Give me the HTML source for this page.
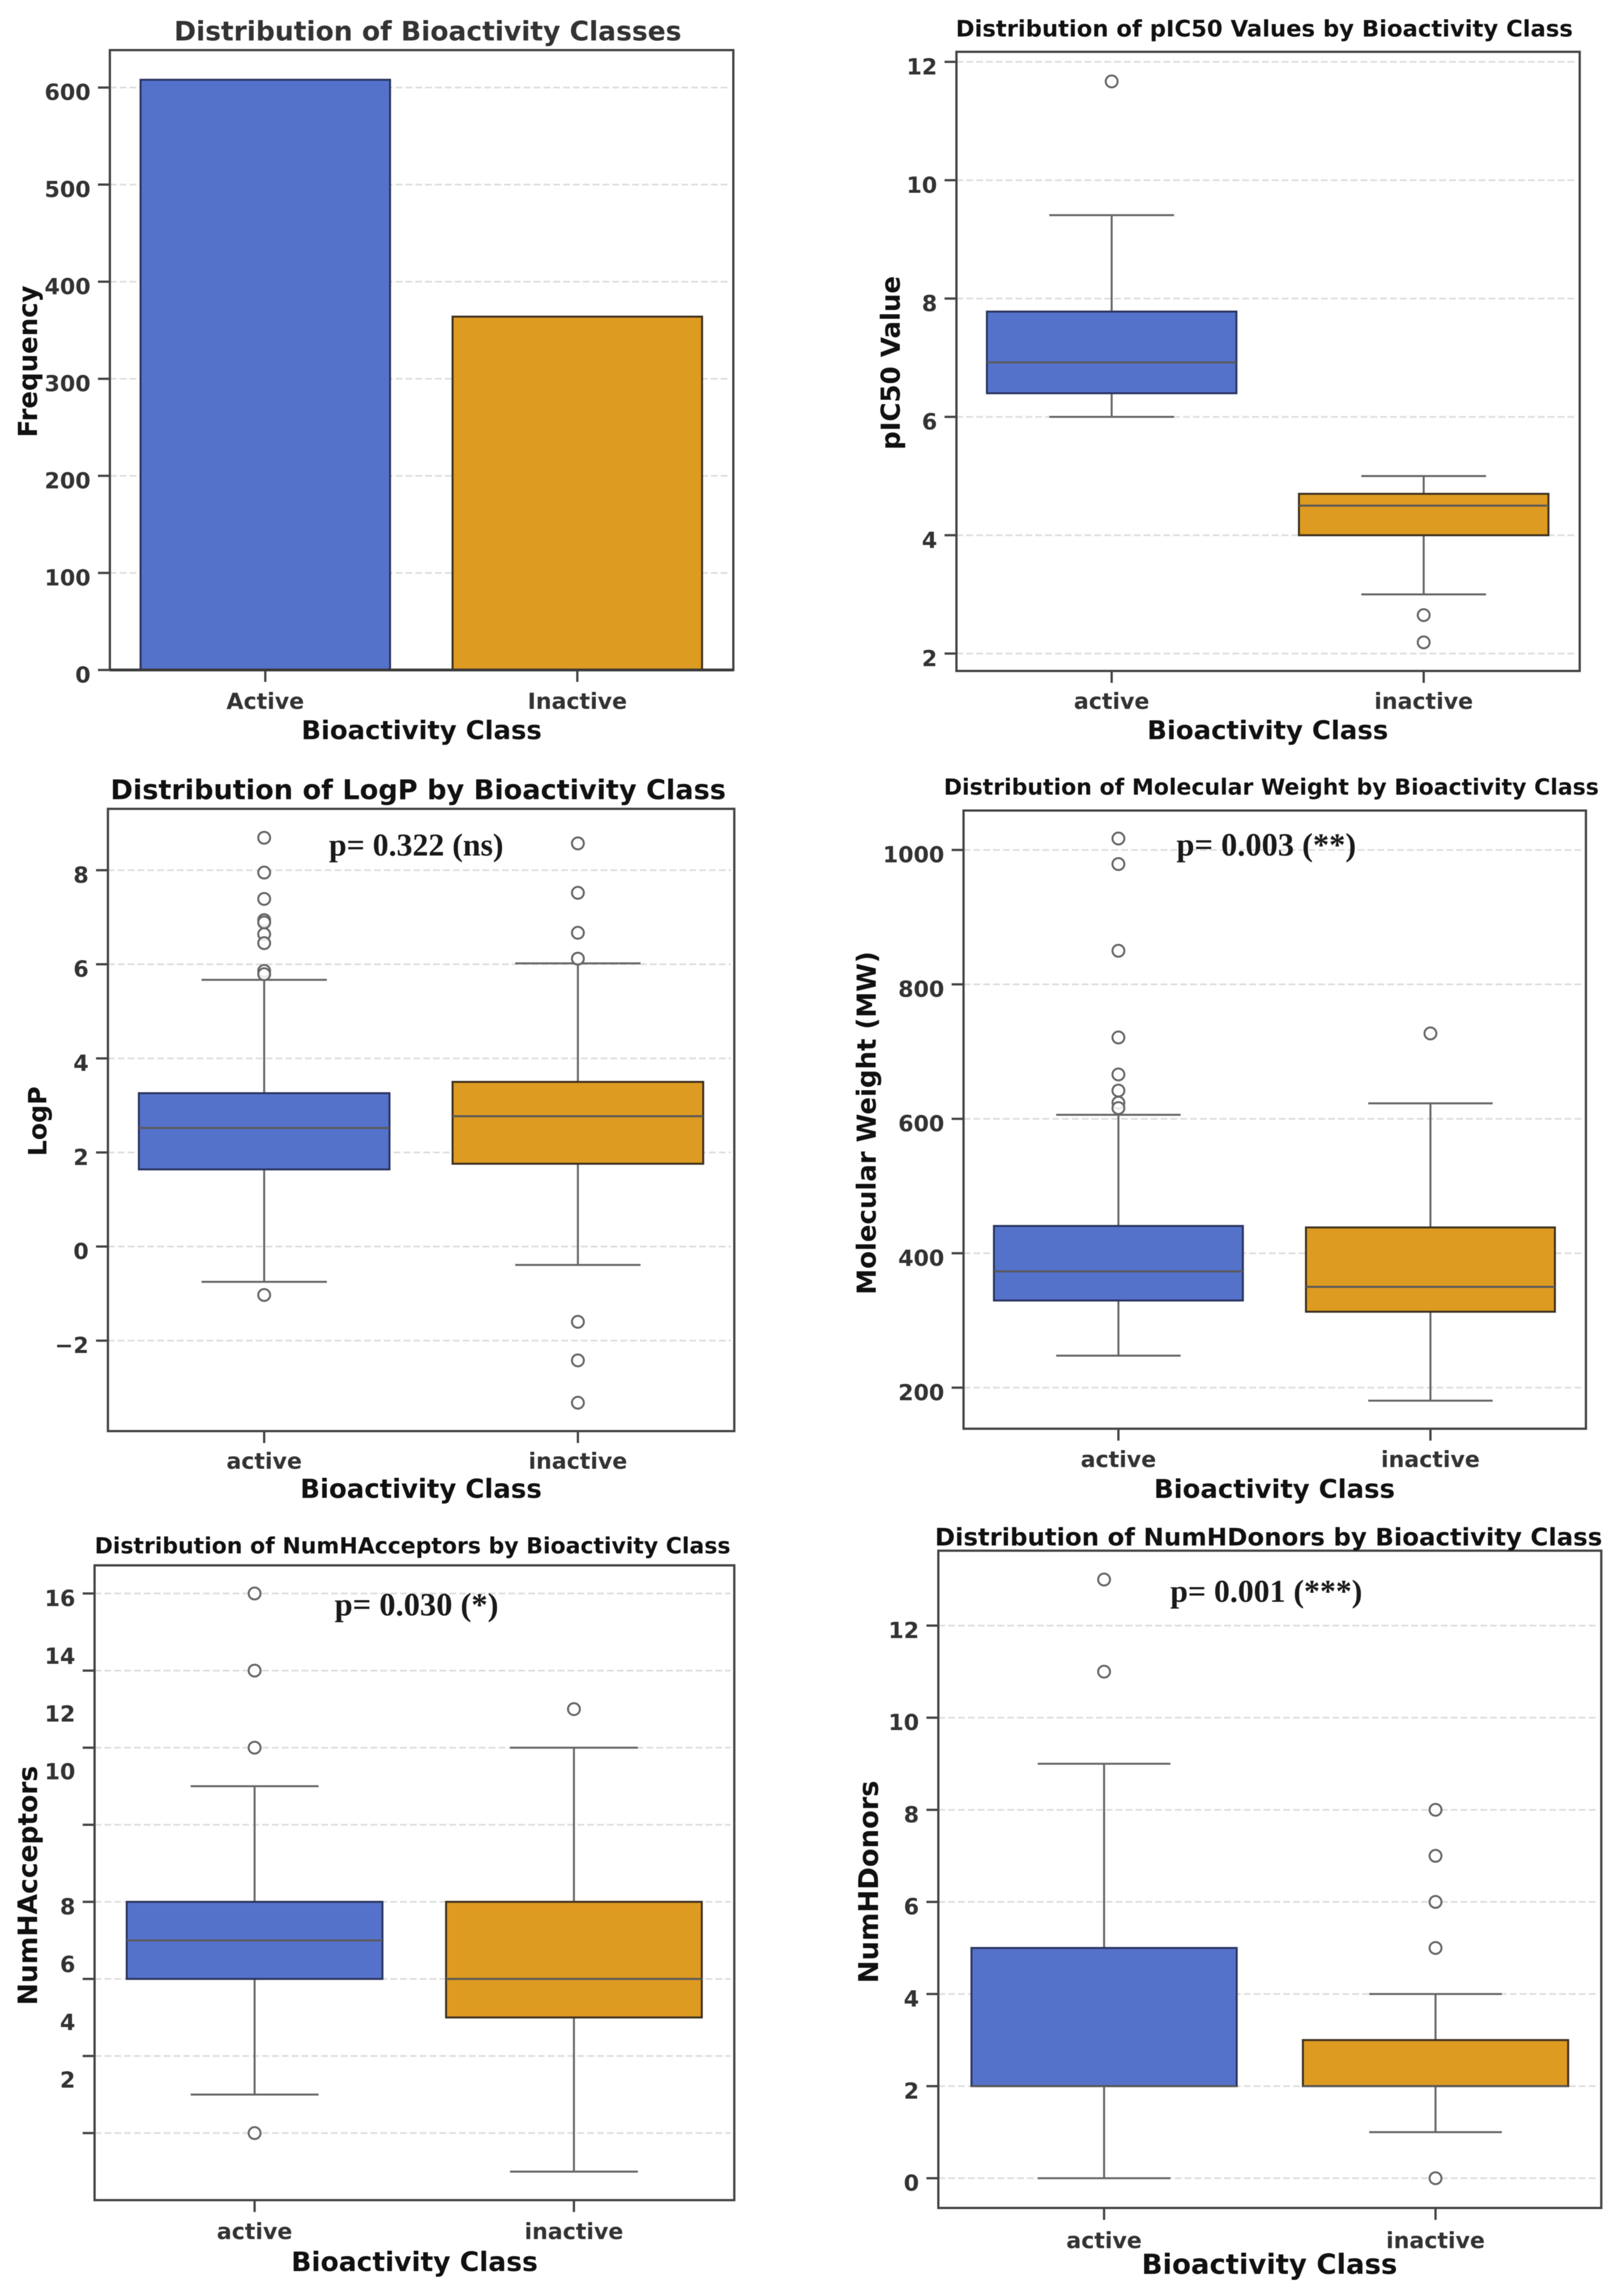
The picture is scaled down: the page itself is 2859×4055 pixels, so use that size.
<!DOCTYPE html>
<html lang="en">
<head>
<meta charset="utf-8">
<title>Bioactivity class distributions</title>
<style>
html,body{margin:0;padding:0;background:#fff;}
svg{display:block;font-family:"DejaVu Sans","Liberation Sans",sans-serif;filter:blur(0.6px);}
</style>
</head>
<body>
<svg id="figure" xmlns="http://www.w3.org/2000/svg" width="2859" height="4055" viewBox="0 0 2859 4055"></svg>
<script>
/* ---------- chart data ---------- */
const barCategories = ['Active', 'Inactive'];
const boxCategories = ['active', 'inactive'];

const barCounts = [608, 364];
const barTicks = [0, 100, 200, 300, 400, 500, 600];

/* box stats order: whisker low, Q1, median, Q3, whisker high */
const pic50Ticks = [2, 4, 6, 8, 10, 12];
const pic50ActiveStats = [6.0, 6.4, 6.92, 7.78, 9.41];
const pic50InactiveStats = [3.0, 4.0, 4.5, 4.7, 5.0];
const pic50ActiveOutliers = [11.67];
const pic50InactiveOutliers = [2.65, 2.19];

const logpTicks = [-2, 0, 2, 4, 6, 8];
const logpActiveStats = [-0.75, 1.64, 2.52, 3.26, 5.67];
const logpInactiveStats = [-0.39, 1.76, 2.77, 3.5, 6.02];
const logpActiveOutliers = [8.69, 7.95, 7.39, 6.94, 6.89, 6.64, 6.45, 5.86, 5.79, -1.03];
const logpInactiveOutliers = [8.57, 7.52, 6.67, 6.12, -1.6, -2.42, -3.32];

const mwTicks = [200, 400, 600, 800, 1000];
const mwActiveStats = [247.6, 329.7, 373, 440.6, 606];
const mwInactiveStats = [180.7, 313, 350, 438.4, 623];
const mwActiveOutliers = [1017, 979, 850, 721, 666, 642, 624, 616];
const mwInactiveOutliers = [727];

const acceptorTicks = [16, 14, 12, 10, 8, 6, 4, 2];
const acceptorTickLabels = ['16', '14', '12', '10', '8', '6', '4', '2'];
const acceptorLabelAnchors = [16, 14.5, 13, 11.5, 8, 6.5, 5, 3.5];
const acceptorActiveStats = [3, 6, 7, 8, 11];
const acceptorInactiveStats = [1, 5, 6, 8, 12];
const acceptorActiveOutliers = [16, 14, 12, 2];
const acceptorInactiveOutliers = [13];

const donorTicks = [0, 2, 4, 6, 8, 10, 12];
const donorActiveStats = [0, 2, 2, 5, 9];
const donorInactiveStats = [1, 2, 2, 3, 4];
const donorActiveOutliers = [13, 11];
const donorInactiveOutliers = [8, 7, 6, 5, 0];

/* ---------- drawing helpers ---------- */
const NS = 'http://www.w3.org/2000/svg';
const root = document.getElementById('figure');
const BLUE = '#5572cb';
const ORANGE = '#de9b21';
const BLUE_EDGE = '#2b3560';
const ORANGE_EDGE = '#3d3120';

function mk(parent, tag, attrs, name) {
  const el = document.createElementNS(NS, tag);
  for (const k in attrs) el.setAttribute(k, attrs[k]);
  
  
  parent.appendChild(el);
  return el;
}
function line(parent, x1, y1, x2, y2, stroke, width, name, dash) {
  const a = {x1: x1, y1: y1, x2: x2, y2: y2, stroke: stroke, 'stroke-width': width};
  if (dash) a['stroke-dasharray'] = dash;
  return mk(parent, 'line', a, name);
}
/* text scaled so its width equals the measured extent in the picture */
function fitText(parent, str, a, b, base, opts, name) {
  const mid = (a + b) / 2;
  const attrs = {
    'text-anchor': 'middle',
    'font-weight': 'bold',
    'font-size': 100,
    fill: opts.fill || '#111'
  };
  if (opts.family) attrs['font-family'] = opts.family;
  if (opts.vertical) {
    attrs.transform = 'translate(' + base + ' ' + mid + ') rotate(-90)';
    attrs.x = 0;
    attrs.y = 0;
  } else {
    attrs.x = mid;
    attrs.y = base;
  }
  const el = mk(parent, 'text', attrs, name);
  el.textContent = str;
  const w = el.getComputedTextLength();
  if (w > 0) el.setAttribute('font-size', (100 * (b - a) / w).toFixed(2));
  return el;
}

function makeAxes(p) {
  const g = mk(root, 'g', {}, p.name);
  const k = (p.yB - p.yA) / (p.vB - p.vA);
  p.y = function (v) { return p.yA + (v - p.vA) * k; };
  p.x = function (i) { return p.c0 + i * (p.c1 - p.c0); };
  p.g = g;
  return p;
}
function drawGrid(p, ticks) {
  ticks.forEach(function (t) {
    line(p.g, p.l, p.y(t), p.r - 6, p.y(t), '#dddddd', 3, 'gridline-' + t, '12 5.4');
  });
}
function drawFrame(p, ticks, labels, anchors, cats) {
  mk(p.g, 'rect', {x: p.l, y: p.t, width: p.r - p.l, height: p.b - p.t, fill: 'none', stroke: '#444', 'stroke-width': 4}, 'axes-frame');
  ticks.forEach(function (t) {
    line(p.g, p.l - 21, p.y(t), p.l, p.y(t), '#444', 4, 'y-tick-' + t);
  });
  labels.forEach(function (lab, i) {
    const el = mk(p.g, 'text', {
      x: p.l - 34,
      y: p.y(anchors[i]) + 22,
      'text-anchor': 'end',
      'font-size': 39,
      'font-weight': 'bold',
      fill: '#333'
    }, 'y-tick-label-' + i);
    el.textContent = String(lab).replace('-', '\u2212');
  });
  cats.forEach(function (c, i) {
    line(p.g, p.x(i), p.b, p.x(i), p.b + 21, '#444', 4, 'x-tick-' + c);
    const el = mk(p.g, 'text', {
      x: p.x(i),
      y: p.xTickBase,
      'text-anchor': 'middle',
      'font-size': 39,
      'font-weight': 'bold',
      fill: '#333'
    }, 'x-tick-label-' + c);
    el.textContent = c;
  });
  fitText(p.g, p.title[0], p.title[1], p.title[2], p.title[3], {fill: p.titleFill}, 'chart-title');
  fitText(p.g, 'Bioactivity Class', p.xLabel[0], p.xLabel[1], p.xLabel[2], {}, 'x-axis-title');
  fitText(p.g, p.yLabel[0], p.yLabel[1], p.yLabel[2], p.yLabel[3], {vertical: true}, 'y-axis-title');
  if (p.pText) {
    fitText(p.g, p.pText[0], p.pText[1], p.pText[2], p.pText[3], {family: '"Liberation Serif",serif', fill: '#1a1a1a'}, 'p-value-annotation');
  }
}
function drawBox(p, i, cat, stats, outliers, fill, edge) {
  const cx = p.x(i), hw = p.hw, cap = hw / 2;
  const low = stats[0], q1 = stats[1], med = stats[2], q3 = stats[3], high = stats[4];
  line(p.g, cx, p.y(high), cx, p.y(q3), '#666', 3.5, 'whisker-high-' + cat);
  line(p.g, cx, p.y(q1), cx, p.y(low), '#666', 3.5, 'whisker-low-' + cat);
  line(p.g, cx - cap, p.y(high), cx + cap, p.y(high), '#666', 3.5, 'cap-high-' + cat);
  line(p.g, cx - cap, p.y(low), cx + cap, p.y(low), '#666', 3.5, 'cap-low-' + cat);
  mk(p.g, 'rect', {
    x: cx - hw,
    y: p.y(q3),
    width: hw * 2,
    height: p.y(q1) - p.y(q3),
    fill: fill,
    stroke: edge,
    'stroke-width': 3.5
  }, 'box-' + cat);
  line(p.g, cx - hw, p.y(med), cx + hw, p.y(med), '#595959', 3.5, 'median-' + cat);
  outliers.forEach(function (v, n) {
    mk(p.g, 'circle', {cx: cx, cy: p.y(v), r: 10.5, fill: '#fff', 'fill-opacity': 0.85, stroke: '#666', 'stroke-width': 3.5}, 'outlier-' + cat + '-' + n);
  });
}

/* ---------- panel 1: bars ---------- */
const p1 = makeAxes({
  name: 'bioactivity-count-chart', l: 194, r: 1295, t: 88.5, b: 1183.3,
  vA: 0, yA: 1183.3, vB: 600, yB: 154.6, c0: 468.5, c1: 1019.5, hw: 220.3,
  xTickBase: 1252, title: ['Distribution of Bioactivity Classes', 307.3, 1203.5, 71.6], titleFill: '#333',
  xLabel: [532, 956.8, 1305.6], yLabel: ['Frequency', 504.2, 772.6, 65.6]
});
drawGrid(p1, barTicks.slice(1));
barCounts.forEach(function (v, i) {
  mk(p1.g, 'rect', {
    x: p1.x(i) - p1.hw,
    y: p1.y(v),
    width: p1.hw * 2,
    height: p1.y(0) - p1.y(v),
    fill: i === 0 ? BLUE : ORANGE,
    stroke: i === 0 ? BLUE_EDGE : ORANGE_EDGE,
    'stroke-width': 3.5
  }, 'bar-' + barCategories[i].toLowerCase());
});
drawFrame(p1, barTicks, barTicks, barTicks, barCategories);
line(p1.g, p1.l, p1.b, p1.r, p1.b, '#3a3a3a', 5, 'x-axis-line');

/* ---------- panel 2: pIC50 ---------- */
const p2 = makeAxes({
  name: 'pic50-boxplot', l: 1689, r: 2789.6, t: 91.5, b: 1185,
  vA: 12, yA: 109.3, vB: 2, yB: 1154.3, c0: 1963.1, c1: 2514.1, hw: 220.3,
  xTickBase: 1252, title: ['Distribution of pIC50 Values by Bioactivity Class', 1687.6, 2777.7, 64.6],
  xLabel: [2025.8, 2451.5, 1305.6], yLabel: ['pIC50 Value', 487.3, 794.5, 1589.1]
});
drawGrid(p2, pic50Ticks);
drawBox(p2, 0, 'active', pic50ActiveStats, pic50ActiveOutliers, BLUE, BLUE_EDGE);
drawBox(p2, 1, 'inactive', pic50InactiveStats, pic50InactiveOutliers, ORANGE, ORANGE_EDGE);
drawFrame(p2, pic50Ticks, pic50Ticks, pic50Ticks, boxCategories);

/* ---------- panel 3: LogP ---------- */
const p3 = makeAxes({
  name: 'logp-boxplot', l: 190.6, r: 1296.7, t: 1428.5, b: 2527.5,
  vA: 8, yA: 1536.9, vB: -2, yB: 2367.7, c0: 466.5, c1: 1020.5, hw: 221.3,
  xTickBase: 2594, title: ['Distribution of LogP by Bioactivity Class', 194.9, 1282, 1411.6],
  xLabel: [530.1, 956.8, 2645.6], yLabel: ['LogP', 1918.7, 2042, 82],
  pText: ['p= 0.322 (ns)', 580.8, 889.2, 1511]
});
drawGrid(p3, logpTicks);
drawBox(p3, 0, 'active', logpActiveStats, logpActiveOutliers, BLUE, BLUE_EDGE);
drawBox(p3, 1, 'inactive', logpInactiveStats, logpInactiveOutliers, ORANGE, ORANGE_EDGE);
drawFrame(p3, logpTicks, logpTicks, logpTicks, boxCategories);

/* ---------- panel 4: Molecular weight ---------- */
const p4 = makeAxes({
  name: 'molecular-weight-boxplot', l: 1701.5, r: 2800.6, t: 1431.5, b: 2523.3,
  vA: 1000, yA: 1501.1, vB: 200, yB: 2450.8, c0: 1975, c1: 2526, hw: 219.8,
  xTickBase: 2591, title: ['Distribution of Molecular Weight by Bioactivity Class', 1666.7, 2823.4, 1403.6],
  xLabel: [2037.7, 2463.4, 2645.6], yLabel: ['Molecular Weight (MW)', 1680, 2286.7, 1546.4],
  pText: ['p= 0.003 (**)', 2077.5, 2394.8, 1511]
});
drawGrid(p4, mwTicks);
drawBox(p4, 0, 'active', mwActiveStats, mwActiveOutliers, BLUE, BLUE_EDGE);
drawBox(p4, 1, 'inactive', mwInactiveStats, mwInactiveOutliers, ORANGE, ORANGE_EDGE);
drawFrame(p4, mwTicks, mwTicks, mwTicks, boxCategories);

/* ---------- panel 5: H-bond acceptors ---------- */
const p5 = makeAxes({
  name: 'h-acceptors-boxplot', l: 167, r: 1296.7, t: 2764.6, b: 3885.7,
  vA: 16, yA: 2814.3, vB: 2, yB: 3767.3, c0: 449.6, c1: 1013.5, hw: 225.8,
  xTickBase: 3954.3, title: ['Distribution of NumHAcceptors by Bioactivity Class', 167, 1290, 2743.7],
  xLabel: [514.2, 949.8, 4011], yLabel: ['NumHAcceptors', 3118.7, 3541.5, 65.6],
  pText: ['p= 0.030 (*)', 590.8, 880.2, 2853]
});
drawGrid(p5, acceptorTicks);
drawBox(p5, 0, 'active', acceptorActiveStats, acceptorActiveOutliers, BLUE, BLUE_EDGE);
drawBox(p5, 1, 'inactive', acceptorInactiveStats, acceptorInactiveOutliers, ORANGE, ORANGE_EDGE);
drawFrame(p5, acceptorTicks, acceptorTickLabels, acceptorLabelAnchors, boxCategories);

/* ---------- panel 6: H-bond donors ---------- */
const p6 = makeAxes({
  name: 'h-donors-boxplot', l: 1657, r: 2827.7, t: 2738.7, b: 3899.5,
  vA: 0, yA: 3847, vB: 12, yB: 2871, c0: 1949.7, c1: 2535, hw: 234.2,
  xTickBase: 3970.3, title: ['Distribution of NumHDonors by Bioactivity Class', 1650.8, 2829.4, 2729.7],
  xLabel: [2016, 2467.6, 4016], yLabel: ['NumHDonors', 3144.6, 3502.7, 1550.3],
  pText: ['p= 0.001 (***)', 2066.5, 2405.7, 2829]
});
drawGrid(p6, donorTicks);
drawBox(p6, 0, 'active', donorActiveStats, donorActiveOutliers, BLUE, BLUE_EDGE);
drawBox(p6, 1, 'inactive', donorInactiveStats, donorInactiveOutliers, ORANGE, ORANGE_EDGE);
drawFrame(p6, donorTicks, donorTicks, donorTicks, boxCategories);
</script>
</body>
</html>
